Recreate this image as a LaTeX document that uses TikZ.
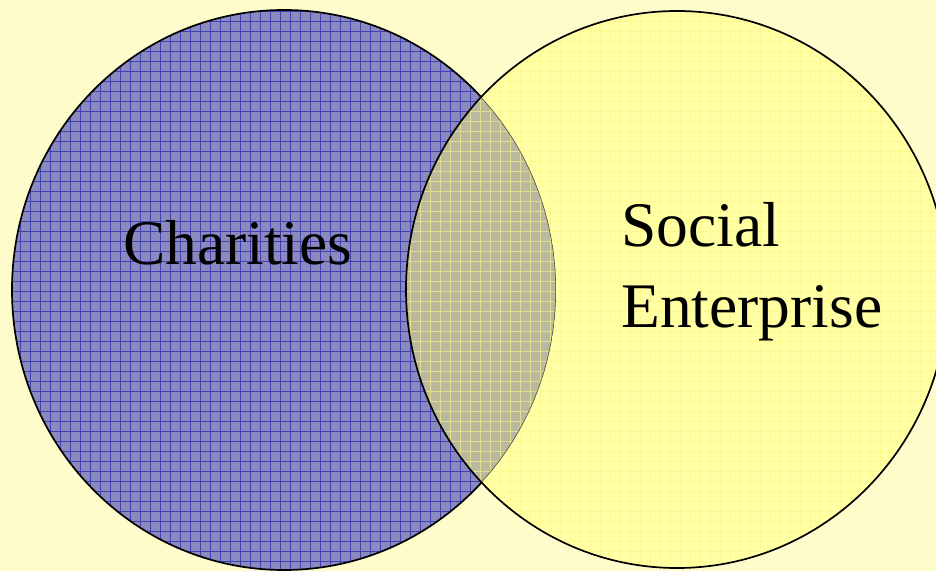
\documentclass[tikz,border=0pt]{standalone}
\usepackage{fontspec}
\setmainfont{Liberation Serif}
\definecolor{bgyellow}{HTML}{FFFCCB}
\definecolor{charfill}{HTML}{8A8ABE}
\definecolor{charline}{HTML}{4040B2}
\definecolor{sefill}{HTML}{FFFFA6}
\definecolor{seline}{HTML}{FFF890}
\definecolor{overlapfill}{HTML}{BAB89E}
\definecolor{overlapline}{HTML}{E2DE8E}
\tikzset{
  rim/.style={draw=black, line width=1.7pt},
  label/.style={inner sep=0pt, anchor=base west, font=\fontsize{63.5}{76}\selectfont}
}
\begin{document}
\begin{tikzpicture}[x=1pt,y=1pt]
  % page background
  \fill[bgyellow] (0,0) rectangle (936,571);
  \useasboundingbox (0,0) rectangle (936,571);

  % Charities set: hatched blue
  \fill[charfill] (284,281) ellipse [x radius=272, y radius=280];
  \begin{scope}
    \clip (284,281) ellipse [x radius=272, y radius=280];
    \draw[charline, line width=0.8pt, step=10pt] (0,0) grid (940,580);
  \end{scope}
  \draw[rim] (284,281) ellipse [x radius=272, y radius=280];

  % Social Enterprise set: pale yellow
  \fill[sefill] (677,281.5) ellipse [x radius=271, y radius=278.5];
  \begin{scope}
    \clip (677,281.5) ellipse [x radius=271, y radius=278.5];
    \draw[seline, line width=0.6pt, step=10pt] (0,0) grid (940,580);
    % overlap of the two sets
    \clip (284,281) ellipse [x radius=272, y radius=280];
    \fill[overlapfill] (0,0) rectangle (936,571);
    \draw[overlapline, line width=0.8pt, step=10pt] (0,0) grid (940,580);
    \draw[black!55!overlapfill, line width=1.2pt] (284,281) ellipse [x radius=272, y radius=280];
  \end{scope}
  \draw[rim] (677,281.5) ellipse [x radius=271, y radius=278.5];

  % set names
  \node[label] (charities) at (123,307) {Charities};
  \node[label] (social) at (621,324.3) {Social};
  \node[label] (enterprise) at (621,244) {Enterprise};
\end{tikzpicture}
\end{document}
